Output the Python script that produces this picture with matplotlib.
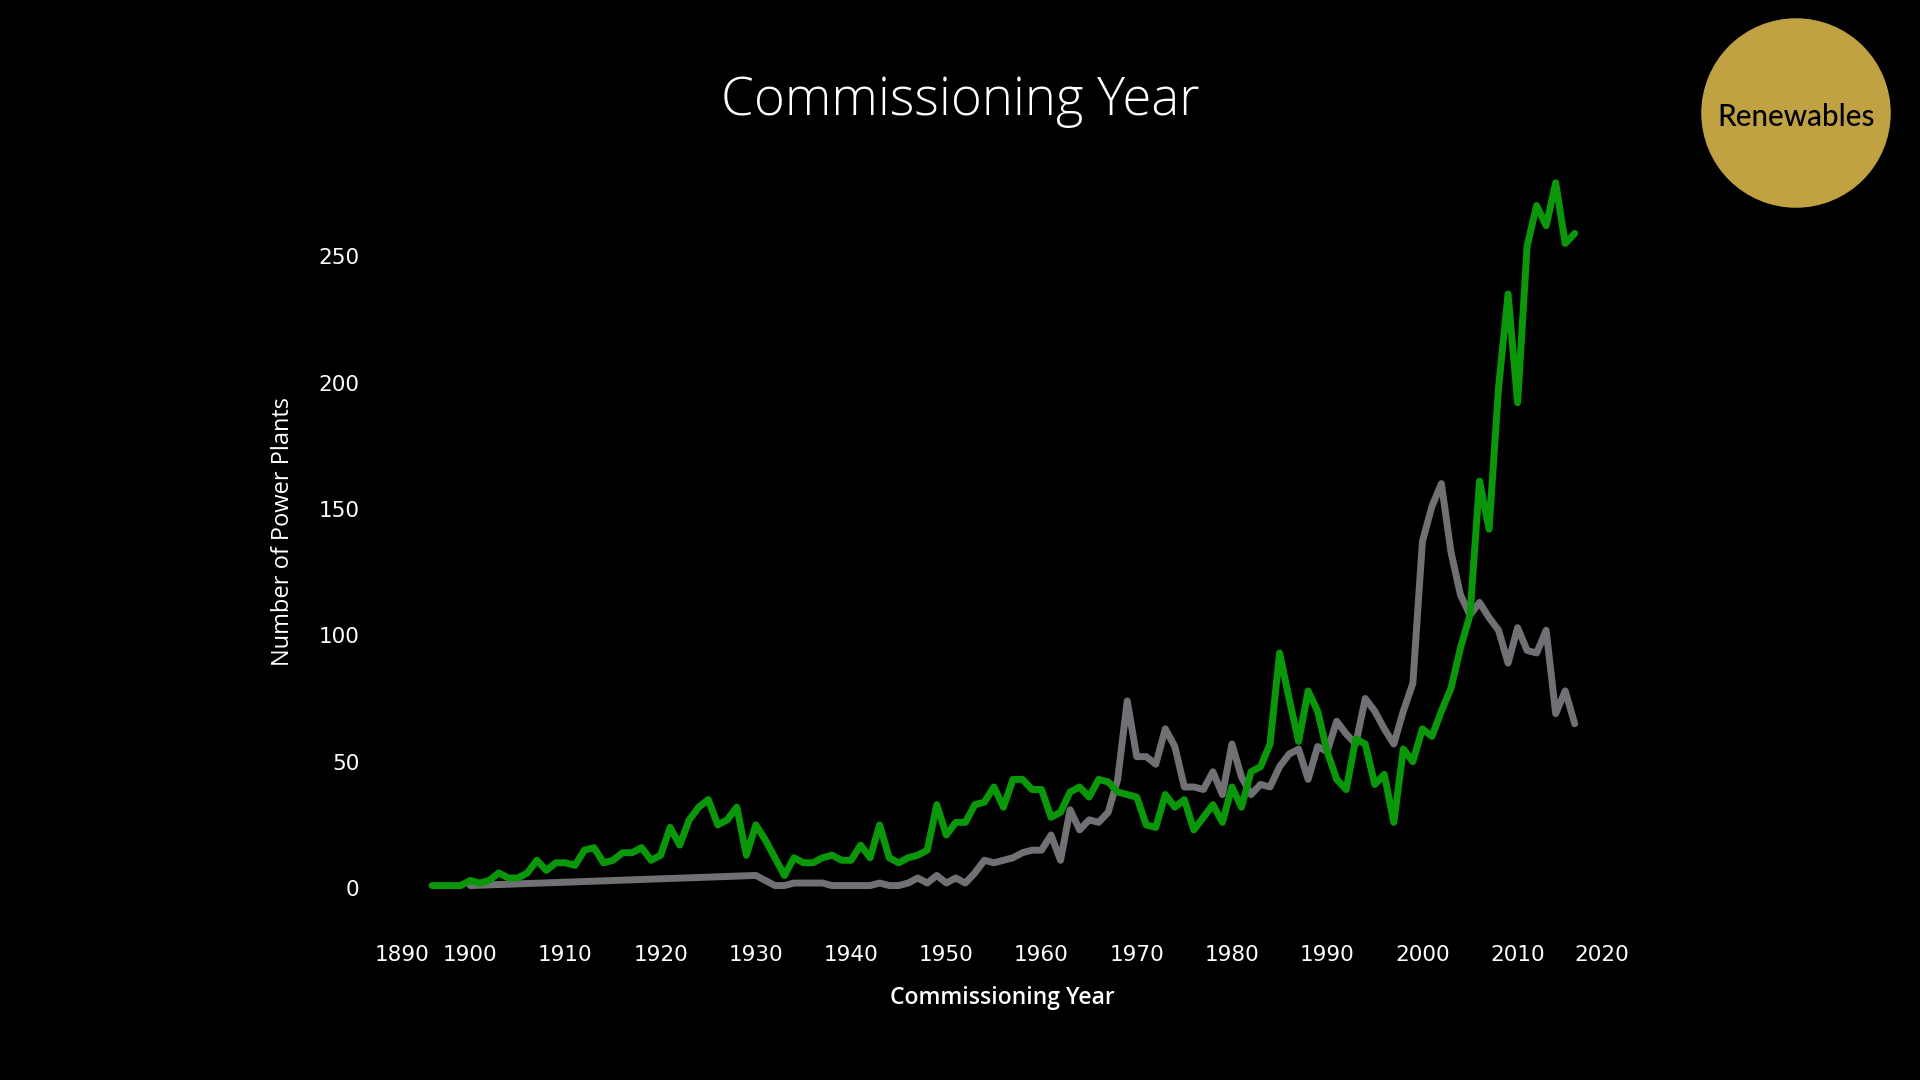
import matplotlib
matplotlib.use("Agg")
import matplotlib.pyplot as plt
from matplotlib.patches import Circle
from matplotlib.transforms import ScaledTranslation

# Renewables, one value per year 1896-2016
years_renew = list(range(1896, 2017))
renewables = [
    1, 1, 1, 1, 3, 2, 3, 6, 4, 4,            # 1896-1905
    6, 11, 7, 10, 10, 9, 15, 16, 10, 11,      # 1906-1915
    14, 14, 16, 11, 13, 24, 17, 27, 32, 35,   # 1916-1925
    25, 27, 32, 13, 25, 19, 12, 5, 12, 10,    # 1926-1935
    10, 12, 13, 11, 11, 17, 12, 25, 12, 10,   # 1936-1945
    12, 13, 15, 33, 21, 26, 26, 33, 34, 40,   # 1946-1955
    32, 43, 43, 39, 39, 28, 30, 38, 40, 36,   # 1956-1965
    43, 42, 38, 37, 36, 25, 24, 37, 32, 35,   # 1966-1975
    23, 28, 33, 26, 40, 32, 46, 48, 57, 93,   # 1976-1985
    75, 58, 78, 70, 54, 43, 39, 59, 57, 41,   # 1986-1995
    45, 26, 55, 50, 63, 60, 70, 79, 95, 108,  # 1996-2005
    161, 142, 198, 235, 192, 254, 270, 262, 279, 255,  # 2006-2015
    259,                                      # 2016
]

# Other plants (grey line), no values between 1900 and 1930
years_other = [1900, 1930] + list(range(1931, 2017))
other = [
    1, 5,
    3, 1, 1, 2, 2, 2, 2, 1, 1, 1,             # 1931-1940
    1, 1, 2, 1, 1, 2, 4, 2, 5, 2,             # 1941-1950
    4, 2, 6, 11, 10, 11, 12, 14, 15, 15,      # 1951-1960
    21, 11, 31, 23, 27, 26, 30, 43, 74, 52,   # 1961-1970
    52, 49, 63, 56, 40, 40, 39, 46, 37, 57,   # 1971-1980
    44, 37, 41, 40, 48, 53, 55, 43, 56, 54,   # 1981-1990
    66, 61, 57, 75, 70, 63, 57, 70, 81, 137,  # 1991-2000
    151, 160, 133, 116, 108, 113, 107, 102, 89, 103,  # 2001-2010
    94, 93, 102, 69, 78, 65,                  # 2011-2016
]

x_ticks = list(range(1890, 2021, 10))
y_ticks = [0, 50, 100, 150, 200, 250]

W, H = 1920, 1080
fig = plt.figure(figsize=(19.2, 10.8), dpi=100, facecolor="black")

# plot pane in pixel terms: left 375, right 1629, top 155, bottom 926
ax = fig.add_axes([375 / W, 1 - 926 / H, (1629 - 375) / W, (926 - 155) / H])
ax.set_facecolor("black")

ax.plot(years_other, other, color="#707075", lw=5,
        solid_joinstyle="round", solid_capstyle="round")
ax.plot(years_renew, renewables, color="#0A980A", lw=5,
        solid_joinstyle="round", solid_capstyle="round")

ax.set_xlim(1890, 2021.7)
ax.set_ylim(-15, 290)
ax.set_xticks(x_ticks)
ax.set_yticks(y_ticks)
for s in ax.spines.values():
    s.set_visible(False)
ax.tick_params(length=0, colors="white", labelsize=15.5)
ax.tick_params(axis="x", pad=14)
ax.tick_params(axis="y", pad=11)

# first/last year labels are pushed inside the pane
xt = ax.xaxis.get_major_ticks()
xt[0].label1.set_horizontalalignment("left")
xt[-1].label1.set_transform(xt[-1].label1.get_transform()
                            + ScaledTranslation(-0.107, 0, fig.dpi_scale_trans))

ax.set_xlabel("Commissioning Year", color="white", fontsize=16.5,
              family="Open Sans", fontweight="semibold", va="center")
ax.xaxis.set_label_coords(0.5, -0.0934)
ax.set_ylabel("Number of Power Plants", color="white", fontsize=17,
              family="Open Sans", fontweight="medium", va="center")
ax.yaxis.set_label_coords(-0.0734, 0.512)

fig.text(0.5, 1 - 101 / H, "Commissioning Year", ha="center", va="center",
         color="white", fontsize=38, family="Open Sans", fontweight="light")

# badge top right
bax = fig.add_axes([(1796 - 95) / W, 1 - (113 + 95) / H, 190 / W, 190 / H])
bax.set_xlim(-1, 1)
bax.set_ylim(-1, 1)
bax.axis("off")
bax.add_patch(Circle((0, 0), 0.99, color="#C0A243"))
bax.text(0, -0.04, "Renewables", ha="center", va="center", fontsize=21.3,
         color="black", family="Lato", fontweight="medium")

fig.savefig("out.png", dpi=100, facecolor="black")
